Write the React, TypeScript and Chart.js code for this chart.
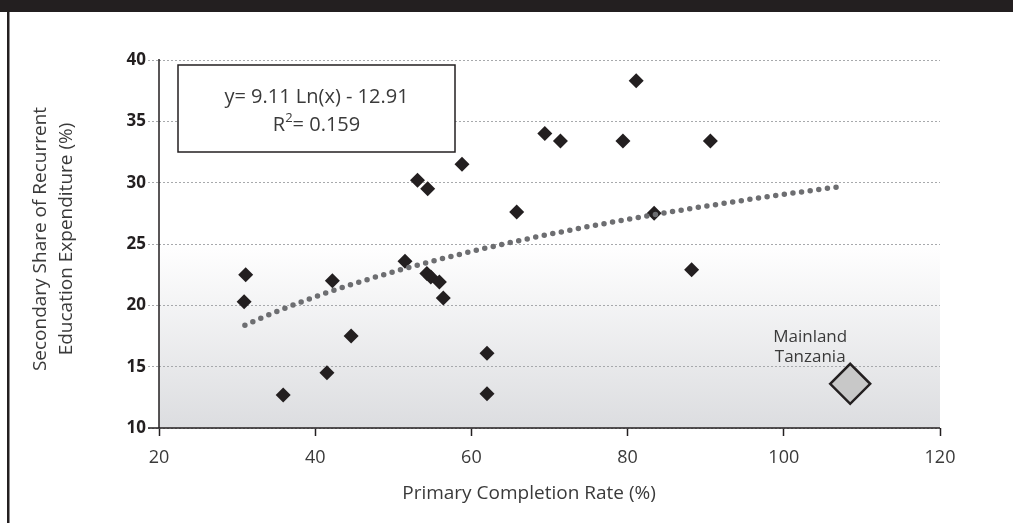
import React, { useEffect, useRef } from "react";
import { Chart, registerables } from "chart.js";

Chart.register(...registerables);

// Primary completion rate (%) and secondary share of recurrent education spending (%)
const completionRate = [
  31.1, 30.9, 35.9, 41.5, 42.2, 44.6, 51.5, 54.3, 54.8, 55.9, 56.4, 53.1,
  54.4, 58.8, 65.8, 62.0, 62.0, 69.4, 71.4, 79.4, 81.1, 83.4, 88.2, 90.6,
];
const secondaryShare = [
  22.5, 20.3, 12.7, 14.5, 22.0, 17.5, 23.6, 22.6, 22.3, 21.9, 20.6, 30.2,
  29.5, 31.5, 27.6, 16.1, 12.8, 34.0, 33.4, 33.4, 38.3, 27.5, 22.9, 33.4,
];

// Highlighted country
const highlightRate = [108.5];
const highlightShare = [13.6];
const highlightLabel = ["Mainland", "Tanzania"];

// Logarithmic trend: y = a Ln(x) + b
const trendA = 9.11;
const trendB = -12.91;
const trendR2 = "0.159";
const trendFrom = 31;
const trendTo = 107.5;

const xTicks = [20, 40, 60, 80, 100, 120];
const yTicks = [10, 15, 20, 25, 30, 35, 40];

const xTitle = "Primary Completion Rate (%)";
const yTitle = ["Secondary Share of Recurrent", "Education Expenditure (%)"];

const FONT = "'Open Sans', 'Noto Sans', sans-serif";
const INK = "#231f20";
const TEXT = "#3a3a3a";

const trendPoints: { x: number; y: number }[] = [];
for (let x = trendFrom; x <= trendTo + 1e-9; x += 0.5) {
  trendPoints.push({ x, y: trendA * Math.log(x) + trendB });
}

const countryPoints = completionRate.map((x, i) => ({ x, y: secondaryShare[i] }));
const highlightPoints = highlightRate.map((x, i) => ({ x, y: highlightShare[i] }));

const decorations = {
  id: "decorations",
  beforeDraw(chart: any) {
    const { ctx, chartArea, scales } = chart;
    const top = scales.y.getPixelForValue(25);
    const g = ctx.createLinearGradient(0, top, 0, chartArea.bottom);
    g.addColorStop(0, "#ffffff");
    g.addColorStop(1, "#dcdde0");
    ctx.save();
    ctx.fillStyle = g;
    ctx.fillRect(chartArea.left, top, chartArea.right - chartArea.left, chartArea.bottom - top);
    ctx.restore();
  },
  afterDraw(chart: any) {
    const { ctx, chartArea, scales, width, height } = chart;
    const { left, right, top, bottom } = chartArea;
    ctx.save();

    // frame: top bar and left rule
    ctx.fillStyle = INK;
    ctx.fillRect(0, 0, width, 12);
    ctx.fillRect(7, 12, 2.5, height - 12);

    // axis lines
    ctx.strokeStyle = INK;
    ctx.lineWidth = 1.5;
    ctx.beginPath();
    ctx.moveTo(left, top - 1);
    ctx.lineTo(left, bottom);
    ctx.moveTo(left - 11, bottom);
    ctx.lineTo(right, bottom);
    ctx.stroke();

    // axis titles
    ctx.fillStyle = TEXT;
    ctx.font = `19px ${FONT}`;
    ctx.textAlign = "center";
    ctx.textBaseline = "middle";
    ctx.fillText(xTitle, 529, 494);

    ctx.save();
    ctx.translate(41, 239);
    ctx.rotate(-Math.PI / 2);
    ctx.fillText(yTitle[0], 0, 0);
    ctx.restore();
    ctx.save();
    ctx.translate(67, 239);
    ctx.rotate(-Math.PI / 2);
    ctx.fillText(yTitle[1], 0, 0);
    ctx.restore();

    // equation box
    const bx = 178, by = 65, bw = 277, bh = 87;
    ctx.fillStyle = "#ffffff";
    ctx.fillRect(bx, by, bw, bh);
    ctx.strokeStyle = INK;
    ctx.lineWidth = 1.5;
    ctx.strokeRect(bx, by, bw, bh);

    const cx = bx + bw / 2;
    ctx.fillStyle = TEXT;
    ctx.font = `20px ${FONT}`;
    ctx.textAlign = "center";
    ctx.fillText(
      `y= ${trendA.toFixed(2)} Ln(x) - ${Math.abs(trendB).toFixed(2)}`,
      cx,
      97
    );
    // R² line with superscript
    const partR = "R";
    const partRest = `= ${trendR2}`;
    ctx.font = `20px ${FONT}`;
    const wR = ctx.measureText(partR).width;
    const wRest = ctx.measureText(partRest).width;
    ctx.font = `13px ${FONT}`;
    const wSup = ctx.measureText("2").width;
    const total = wR + wSup + wRest;
    let sx = cx - total / 2;
    ctx.textAlign = "left";
    ctx.font = `20px ${FONT}`;
    ctx.fillText(partR, sx, 125);
    sx += wR;
    ctx.font = `13px ${FONT}`;
    ctx.fillText("2", sx, 118);
    sx += wSup;
    ctx.font = `20px ${FONT}`;
    ctx.fillText(partRest, sx, 125);

    // highlighted country label
    const lx = scales.x.getPixelForValue(highlightRate[0]) - 40;
    const ly = scales.y.getPixelForValue(highlightShare[0]);
    ctx.textAlign = "center";
    ctx.font = `17px ${FONT}`;
    ctx.fillText(highlightLabel[0], lx, ly - 47);
    ctx.fillText(highlightLabel[1], lx, ly - 27);

    ctx.restore();
  },
};

export default function App() {
  const canvasRef = useRef<HTMLCanvasElement | null>(null);

  useEffect(() => {
    const canvas = canvasRef.current;
    if (!canvas) return;
    const chart = new Chart(canvas, {
      type: "scatter",
      data: {
        datasets: [
          {
            type: "line",
            data: trendPoints,
            borderColor: "#6d6e71",
            borderWidth: 5.5,
            borderDash: [0, 8.7],
            borderCapStyle: "round",
            pointRadius: 0,
            fill: false,
            tension: 0,
          } as any,
          {
            data: countryPoints,
            pointStyle: "rectRot",
            pointRadius: 7.5,
            backgroundColor: INK,
            borderColor: INK,
            borderWidth: 0,
          },
          {
            data: highlightPoints,
            pointStyle: "rectRot",
            pointRadius: 20,
            backgroundColor: "#c8c8c8",
            borderColor: INK,
            borderWidth: 2.5,
          },
        ],
      },
      options: {
        animation: false,
        responsive: false,
        devicePixelRatio: 1,
        events: [],
        layout: { padding: { top: 60, right: 73, left: 0, bottom: 0 } },
        plugins: { legend: { display: false }, tooltip: { enabled: false } },
        scales: {
          x: {
            type: "linear",
            min: xTicks[0],
            max: xTicks[xTicks.length - 1],
            afterBuildTicks: (s: any) => {
              s.ticks = xTicks.map((v) => ({ value: v }));
            },
            ticks: { font: { size: 18, family: FONT }, color: TEXT, padding: 11 },
            grid: {
              drawOnChartArea: false,
              drawTicks: true,
              tickLength: 8,
              tickColor: INK,
              tickWidth: 1.5,
              color: INK,
            },
            border: { display: false },
            afterFit: (s: any) => {
              s.height = 95;
            },
          },
          y: {
            type: "linear",
            min: yTicks[0],
            max: yTicks[yTicks.length - 1],
            afterBuildTicks: (s: any) => {
              s.ticks = yTicks.map((v) => ({ value: v }));
            },
            ticks: {
              font: { size: 17, weight: "bold", family: FONT },
              color: INK,
              padding: 2,
            },
            grid: {
              color: "#a7a9ac",
              lineWidth: 1,
              tickLength: 11,
              tickColor: "#a7a9ac",
              tickWidth: 1,
              tickBorderDash: [2, 2],
            },
            border: { display: false, dash: [2, 2] },
            afterFit: (s: any) => {
              s.width = 159;
            },
          },
        },
      } as any,
      plugins: [decorations],
    });
    return () => chart.destroy();
  }, []);

  return (
    <div style={{ position: "fixed", left: 0, top: 0, width: 1013, height: 523, background: "#fff" }}>
      <canvas ref={canvasRef} width={1013} height={523} style={{ display: "block" }} />
    </div>
  );
}
